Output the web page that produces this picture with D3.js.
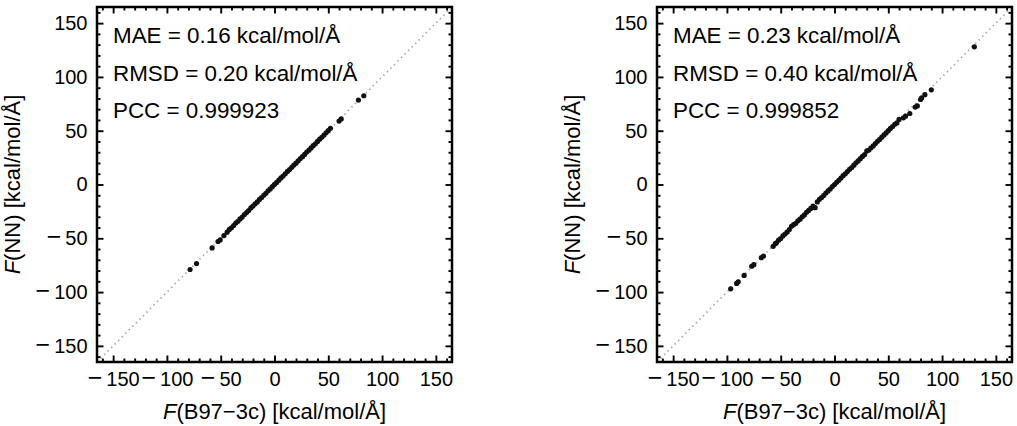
<!DOCTYPE html>
<html>
<head>
<meta charset="utf-8">
<script src="https://d3js.org/d3.v7.min.js"></script>
<style>
  body { margin: 0; background: #fff; }
  text { font-family: 'Liberation Sans', Arial, sans-serif; fill: #000; }
</style>
</head>
<body>
<svg width="1017" height="426"></svg>
<script>
// axis ticks
const majorTicks = [-150, -100, -50, 0, 50, 100, 150];
const minorTicks = [-160, -140, -130, -120, -110, -90, -80, -70, -60, -40, -30, -20, -10,
                    10, 20, 30, 40, 60, 70, 80, 90, 110, 120, 130, 140, 160];
const axisDomain = [-165, 165];

// annotation texts
const statsA = ["MAE = 0.16 kcal/mol/Å", "RMSD = 0.20 kcal/mol/Å", "PCC = 0.999923"];
const statsB = ["MAE = 0.23 kcal/mol/Å", "RMSD = 0.40 kcal/mol/Å", "PCC = 0.999852"];

// [F(B97-3c), F(NN)]
const pointsA = [
  [-78.5, -79], [-72.5, -73.5], [-58, -59], [-52.5, -53], [-50.5, -51.5], [-47, -47.5],
  [-44, -44.3], [-42, -41.8], [-40, -40.2], [-38, -38.1], [-36, -35.8], [-34, -34.2],
  [-32, -32], [-30, -30.3], [-28, -27.9], [-26, -26.1], [-24, -24.2], [-22, -21.8],
  [-20, -20.1], [-18, -18], [-16, -16.2], [-14, -13.9], [-12, -12.1], [-10, -10],
  [-8, -8.2], [-6, -5.9], [-4, -4.1], [-2, -2], [0, 0.1], [2, 1.9], [4, 4], [6, 6.1],
  [8, 7.9], [10, 10], [12, 12.2], [14, 13.9], [16, 16], [18, 18.1], [20, 19.8], [22, 22],
  [24, 24.1], [26, 25.9], [28, 28], [30, 30.2], [32, 31.9], [34, 34], [36, 36.1],
  [38, 37.9], [40, 40], [42, 42.1], [44, 43.9], [46, 46], [48, 48.1], [50, 50],
  [52, 52.2], [60, 59], [62, 61], [78, 78.5], [83, 82.5]
];
const pointsB = [
  [-96.5, -97], [-91, -92], [-89.5, -90.5], [-84, -84.5], [-77, -76], [-75, -74.5],
  [-68, -68], [-66, -66.5], [-57, -57.5], [-55, -55],
  [-54, -54.2], [-52, -51.8], [-50, -50.3], [-48, -47.8], [-46, -46.1], [-44, -44.2],
  [-42, -41.9], [-40, -38.8], [-38, -37.3], [-36, -36.1], [-34, -33.8], [-32, -32.2],
  [-30, -30], [-28, -28.3], [-26, -25.8], [-24, -24.1], [-22, -22.2], [-20, -20],
  [-18, -21.5], [-16, -16.2], [-14, -13.8], [-12, -12.1], [-10, -10.2], [-8, -7.9],
  [-6, -6], [-4, -4.2], [-2, -1.9], [0, 0], [2, 2.1], [4, 3.9], [6, 6], [8, 8.2],
  [10, 9.9], [12, 12], [14, 14.1], [16, 15.8], [18, 18], [20, 20.2], [22, 21.9],
  [24, 24], [26, 26.1], [28, 27.8], [30, 31.2], [32, 32], [34, 34.1], [36, 35.9],
  [38, 38], [40, 40.2], [42, 41.9], [44, 44], [46, 46.1], [48, 47.9], [50, 50],
  [52, 52.1], [54, 53.9], [56, 56], [58, 57.2], [60, 60.5], [64, 62], [66, 63.5],
  [70, 66], [75, 72], [77, 73], [80, 79], [81, 80.5], [84, 83.5], [90, 88], [130, 128]
];

const svg = d3.select("svg");
const size = 355;
const frameTop = 7;

const x = d3.scaleLinear().domain(axisDomain).range([0, size]);
const y = d3.scaleLinear().domain(axisDomain).range([size, 0]);

function drawAxis(g, axisFn, scale, tr, labels) {
  const minor = axisFn(scale).tickValues(minorTicks).tickSize(-3.5).tickSizeOuter(0).tickFormat("");
  const major = axisFn(scale).tickValues(majorTicks).tickSize(-6.5).tickSizeOuter(0).tickPadding(9.5)
      .tickFormat(labels ? d => Math.abs(d) : "");

  const minorEl = g.append("g").attr("transform", tr).call(minor);
  const majorEl = g.append("g").attr("transform", tr).call(major);
  [minorEl, majorEl].forEach(el => {
    el.select(".domain").remove();
    el.selectAll("line").attr("stroke", "#000").attr("stroke-width", 1.9);
  });
  minorEl.selectAll("text").remove();
  if (!labels) { majorEl.selectAll("text").remove(); return; }

  majorEl.selectAll("text").style("font-size", "20px").attr("fill", "#000");
  // Mathematica-style wide minus sign
  majorEl.selectAll("text").filter(d => d < 0).each(function (d) {
    const t = d3.select(this).text("");
    t.append("tspan").style("font-size", "25px").text("\u2212");
    t.append("tspan").text("\u2009" + Math.abs(d));
  });
}

function panel(left, pts, stats) {
  const g = svg.append("g").attr("transform", `translate(${left},${frameTop})`);

  g.append("line")
    .attr("x1", x(axisDomain[0])).attr("y1", y(axisDomain[0]))
    .attr("x2", x(axisDomain[1])).attr("y2", y(axisDomain[1]))
    .attr("stroke", "#a8a8a8")
    .attr("stroke-width", 1.8)
    .attr("stroke-dasharray", "1.4,3.6");

  g.selectAll("circle")
    .data(pts)
    .join("circle")
    .attr("cx", d => x(d[0]))
    .attr("cy", d => y(d[1]))
    .attr("r", 2.6)
    .attr("fill", "#111");

  drawAxis(g, d3.axisBottom, x, `translate(0,${size})`, true);
  drawAxis(g, d3.axisTop, x, "translate(0,0)", false);
  drawAxis(g, d3.axisLeft, y, "translate(0,0)", true);
  drawAxis(g, d3.axisRight, y, `translate(${size},0)`, false);

  g.append("rect")
    .attr("width", size).attr("height", size)
    .attr("fill", "none").attr("stroke", "#000").attr("stroke-width", 2.5);

  g.selectAll(".stat")
    .data(stats)
    .join("text")
    .attr("class", "stat")
    .attr("x", 16)
    .attr("y", (d, i) => 36 + i * 37.5)
    .style("font-size", "22.4px")
    .text(d => d);

  // x label
  const xl = g.append("text")
    .attr("x", size / 2).attr("y", 412)
    .attr("text-anchor", "middle")
    .style("font-size", "22px");
  xl.append("tspan").style("font-style", "italic").text("F");
  xl.append("tspan").text("(B97\u22123c) [kcal/mol/Å]");

  // y label
  const yl = g.append("text")
    .attr("transform", `translate(-77,${size / 2}) rotate(-90)`)
    .attr("text-anchor", "middle")
    .style("font-size", "22px");
  yl.append("tspan").style("font-style", "italic").text("F");
  yl.append("tspan").text("(NN) [kcal/mol/Å]");
}

panel(97, pointsA, statsA);
panel(657, pointsB, statsB);
</script>
</body>
</html>
